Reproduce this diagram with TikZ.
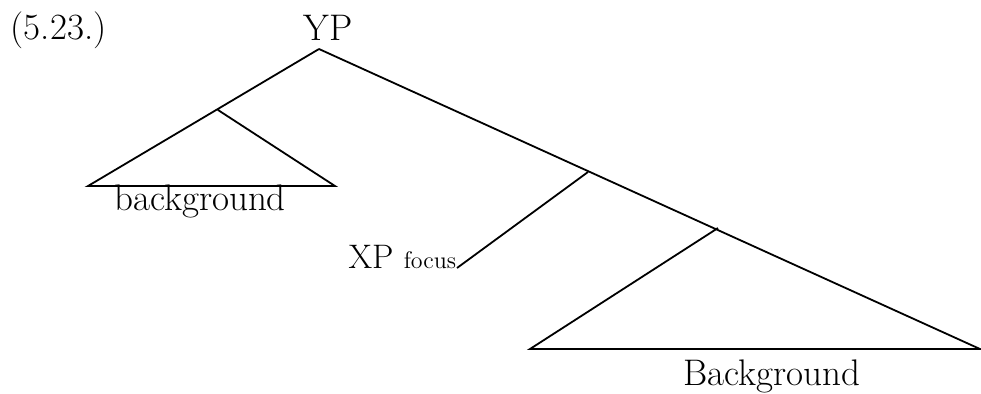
\documentclass[tikz,border=0pt]{standalone}
\usepackage{tikz}
\begin{document}
\begin{tikzpicture}[x=0.5pt,y=-0.5pt,line width=0.9pt,
  treelabel/.style={font=\fontsize{18.5}{22}\selectfont,inner sep=0pt,anchor=base}]

\useasboundingbox (0,0) rectangle (981,393);

% Example number and root label
\node[treelabel,anchor=base west] (exnum) at (10,39) {(5.23.)};
\node[treelabel] (yp) at (328,40) {YP};

% Branch points and triangle corners
\coordinate (root) at (319,49);
\coordinate (lbranch) at (218,110);
\coordinate (lleft) at (88,186);
\coordinate (lright) at (335,186);
\coordinate (fbranch) at (588,172);
\coordinate (bbranch) at (718,228);
\coordinate (bleft) at (530,349);
\coordinate (bright) at (980,349);

% Left triangle
\draw (root) -- (lleft) -- (lright) -- (lbranch);
\node[treelabel] (bgleft) at (200,210) {background};

% Focus branch
\node[treelabel,anchor=base east,font=\fontsize{17}{20}\selectfont] (xp) at (457,268) {XP {\fontsize{12}{14}\selectfont focus}};
\draw (fbranch) -- (xp.base east);

% Right triangle
\draw (root) -- (bright) -- (bleft) -- (bbranch);
\node[treelabel] (bgright) at (772,385) {Background};

\end{tikzpicture}
\end{document}
